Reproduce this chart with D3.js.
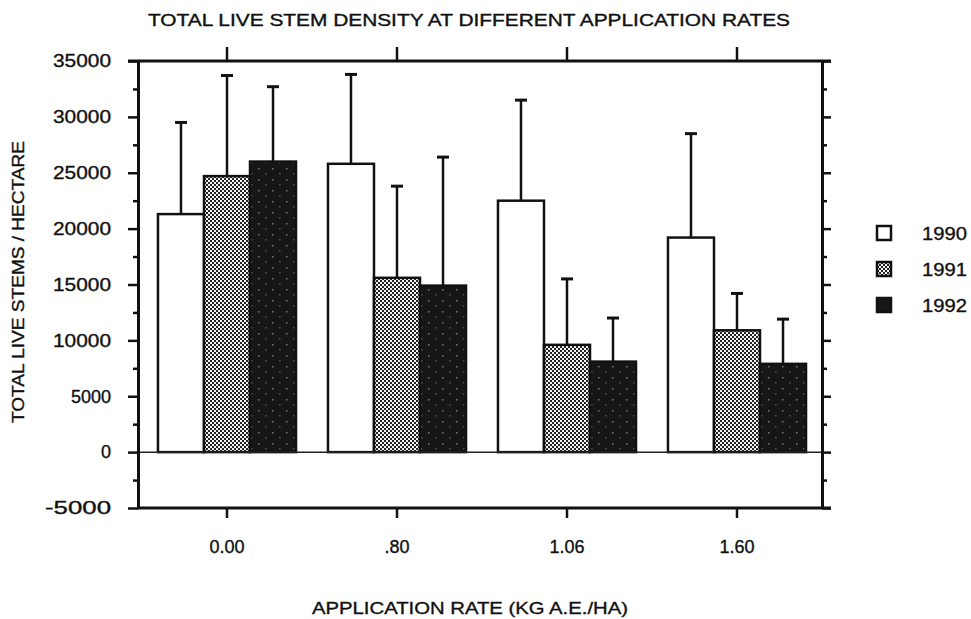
<!DOCTYPE html>
<html>
<head>
<meta charset="utf-8">
<script src="https://cdn.jsdelivr.net/npm/d3@7"></script>
<style>
  body { margin: 0; background: #fff; }
  text { font-family: "Liberation Sans", Arial, sans-serif; fill: #111; stroke: #111; stroke-width: 0.35px; }
</style>
</head>
<body>
<script>
// data
var rates = ['0.00', '.80', '1.06', '1.60'];
var years = ['1990', '1991', '1992'];
var stems1990 = [21300, 25800, 22500, 19200];
var stems1991 = [24700, 15600, 9600, 10900];
var stems1992 = [26000, 14900, 8100, 7900];
var err1990 = [29500, 33800, 31500, 28500];
var err1991 = [33700, 23800, 15500, 14200];
var err1992 = [32700, 26400, 12000, 11900];
var yTicks = [-5000, 0, 5000, 10000, 15000, 20000, 25000, 30000, 35000];
var yMinor = [-2500, 2500, 7500, 12500, 17500, 22500, 27500, 32500];

var width = 971, height = 619;
var plotLeft = 138, plotRight = 822, plotTop = 61, plotBottom = 508;

var svg = d3.select('body').append('svg')
  .attr('width', width)
  .attr('height', height);

svg.append('rect').attr('width', '100%').attr('height', '100%').attr('fill', 'white');

var defs = svg.append('defs');
// 1991: fine checker dither
var p1 = defs.append('pattern').attr('id', 'dither').attr('patternUnits', 'userSpaceOnUse')
  .attr('width', 4).attr('height', 4);
p1.append('rect').attr('width', 4).attr('height', 4).attr('fill', '#f4f4f4');
p1.append('rect').attr('width', 2).attr('height', 2).attr('fill', '#222');
p1.append('rect').attr('x', 2).attr('y', 2).attr('width', 2).attr('height', 2).attr('fill', '#222');
// 1992: near black with sparse specks
var p2 = defs.append('pattern').attr('id', 'speck').attr('patternUnits', 'userSpaceOnUse')
  .attr('width', 14).attr('height', 11);
p2.append('rect').attr('width', 14).attr('height', 11).attr('fill', '#161616');
p2.append('rect').attr('x', 2).attr('y', 3).attr('width', 1.5).attr('height', 1.5).attr('fill', '#777');
p2.append('rect').attr('x', 9).attr('y', 8).attr('width', 1.5).attr('height', 1.5).attr('fill', '#555');

var fills = { '1990': 'white', '1991': 'url(#dither)', '1992': 'url(#speck)' };

var y = d3.scaleLinear().domain([-5000, 35000]).range([plotBottom, plotTop]);
var x0 = d3.scaleBand().domain(rates).range([142, 822]).paddingInner(0.188).paddingOuter(0.094);
var x1 = d3.scaleBand().domain(years).range([0, x0.bandwidth()]);

var rows = rates.map(function(r, i) {
  return {
    rate: r,
    vals: [
      { year: '1990', v: stems1990[i], e: err1990[i] },
      { year: '1991', v: stems1991[i], e: err1991[i] },
      { year: '1992', v: stems1992[i], e: err1992[i] }
    ]
  };
});

// title
svg.append('text')
  .attr('x', 469).attr('y', 26)
  .attr('text-anchor', 'middle')
  .attr('font-size', 16)
  .attr('textLength', 642).attr('lengthAdjust', 'spacingAndGlyphs')
  .text('TOTAL LIVE STEM DENSITY AT DIFFERENT APPLICATION RATES');

// bars
var groups = svg.append('g').selectAll('g')
  .data(rows)
  .enter().append('g')
  .attr('transform', function(d) { return 'translate(' + x0(d.rate) + ',0)'; });

// error bars (upper only)
groups.selectAll('.err')
  .data(function(d) { return d.vals; })
  .enter().append('g')
  .each(function(d) {
    var g = d3.select(this);
    var cx = x1(d.year) + x1.bandwidth() / 2;
    g.append('line')
      .attr('x1', cx).attr('x2', cx)
      .attr('y1', y(d.v)).attr('y2', y(d.e))
      .attr('stroke', '#111').attr('stroke-width', 2.5);
    g.append('line')
      .attr('x1', cx - 6).attr('x2', cx + 6)
      .attr('y1', y(d.e)).attr('y2', y(d.e))
      .attr('stroke', '#111').attr('stroke-width', 3);
  });

groups.selectAll('rect')
  .data(function(d) { return d.vals; })
  .enter().append('rect')
  .attr('x', function(d) { return x1(d.year); })
  .attr('y', function(d) { return y(d.v); })
  .attr('width', x1.bandwidth())
  .attr('height', function(d) { return y(0) - y(d.v); })
  .attr('fill', function(d) { return fills[d.year]; })
  .attr('stroke', '#111')
  .attr('stroke-width', 2.5);

// zero line
svg.append('line')
  .attr('x1', plotLeft).attr('x2', plotRight)
  .attr('y1', y(0)).attr('y2', y(0))
  .attr('stroke', '#222').attr('stroke-width', 1.5);

// axes
function styleAxis(g, w) {
  g.select('.domain').attr('stroke', '#111').attr('stroke-width', w);
  g.selectAll('.tick line').attr('stroke', '#111').attr('stroke-width', 2.5);
}

var plain = function(d) { return String(d); };

var yAxis = svg.append('g').attr('transform', 'translate(' + plotLeft + ',0)')
  .call(d3.axisLeft(y).tickValues(yTicks).tickFormat(plain).tickSize(10).tickSizeOuter(0).tickPadding(17));
styleAxis(yAxis, 3);
yAxis.selectAll('text').attr('font-size', 18).attr('font-family', '"Liberation Sans", Arial, sans-serif')
  .attr('fill', '#111').attr('lengthAdjust', 'spacingAndGlyphs')
  .attr('textLength', function(d) { return String(d).length >= 5 ? 58 : null; });
yAxis.selectAll('text').filter(function(d) { return d === -5000; }).attr('textLength', 66);

var yMinorAxis = svg.append('g').attr('transform', 'translate(' + plotLeft + ',0)')
  .call(d3.axisLeft(y).tickValues(yMinor).tickSize(5).tickFormat(''));
yMinorAxis.select('.domain').remove();
yMinorAxis.selectAll('.tick line').attr('stroke', '#111').attr('stroke-width', 2.5);

var rAxis = svg.append('g').attr('transform', 'translate(' + plotRight + ',0)')
  .call(d3.axisRight(y).tickValues(yTicks).tickSize(9).tickSizeOuter(0).tickFormat(''));
styleAxis(rAxis, 3);
var rMinor = svg.append('g').attr('transform', 'translate(' + plotRight + ',0)')
  .call(d3.axisRight(y).tickValues(yMinor).tickSize(5).tickFormat(''));
rMinor.select('.domain').remove();
rMinor.selectAll('.tick line').attr('stroke', '#111').attr('stroke-width', 2.5);

var xAxis = svg.append('g').attr('transform', 'translate(0,' + plotBottom + ')')
  .call(d3.axisBottom(x0).tickSize(10).tickSizeOuter(0).tickPadding(22));
xAxis.select('.domain').attr('d', 'M' + (plotLeft - 1) + ',0H' + (plotRight + 9));
styleAxis(xAxis, 3);
xAxis.selectAll('text').attr('font-size', 18).attr('font-family', '"Liberation Sans", Arial, sans-serif')
  .attr('fill', '#111');

var tAxis = svg.append('g').attr('transform', 'translate(0,' + plotTop + ')')
  .call(d3.axisTop(x0).tickSize(14).tickSizeOuter(0).tickFormat(''));
tAxis.select('.domain').attr('d', 'M' + (plotLeft - 10) + ',0H' + (plotRight + 9));
styleAxis(tAxis, 3);

// axis titles
svg.append('text')
  .attr('transform', 'translate(24,' + 282 + ') rotate(-90)')
  .attr('text-anchor', 'middle')
  .attr('font-size', 16)
  .attr('textLength', 282).attr('lengthAdjust', 'spacingAndGlyphs')
  .text('TOTAL LIVE STEMS / HECTARE');

svg.append('text')
  .attr('x', 470).attr('y', 614)
  .attr('text-anchor', 'middle')
  .attr('font-size', 17)
  .attr('textLength', 316).attr('lengthAdjust', 'spacingAndGlyphs')
  .text('APPLICATION RATE (KG A.E./HA)');

// legend
var legend = svg.append('g').selectAll('g')
  .data(years)
  .enter().append('g')
  .attr('transform', function(d, i) { return 'translate(877,' + (226 + i * 36) + ')'; });

legend.append('rect')
  .attr('width', 14).attr('height', 14)
  .attr('fill', function(d) { return d === '1990' ? 'white' : (d === '1991' ? 'url(#dither)' : '#161616'); })
  .attr('stroke', '#111').attr('stroke-width', 2.5);

legend.append('text')
  .attr('x', 45).attr('y', 14)
  .attr('font-size', 18)
  .attr('textLength', 45).attr('lengthAdjust', 'spacingAndGlyphs')
  .text(function(d) { return d; });
</script>
</body>
</html>
